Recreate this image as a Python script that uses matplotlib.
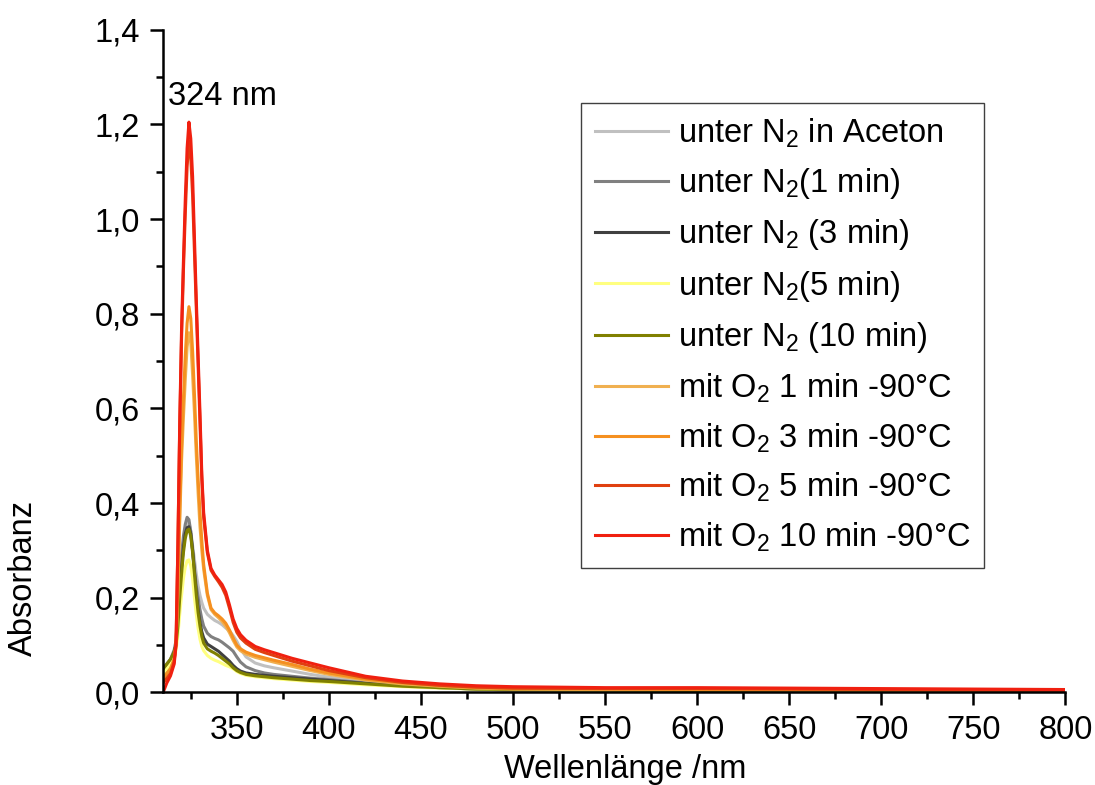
import matplotlib
matplotlib.use("Agg")
import matplotlib.pyplot as plt
from matplotlib.ticker import MultipleLocator, FuncFormatter

plt.rcParams['font.family'] = ['Liberation Sans', 'DejaVu Sans']
plt.rcParams['mathtext.fontset'] = 'custom'
plt.rcParams['mathtext.rm'] = 'Liberation Sans'
plt.rcParams['mathtext.it'] = 'Liberation Sans'

# wavelength grid (nm)
wl = [310, 312, 314, 316, 317, 318, 319, 320, 321, 322, 323, 324, 325, 326, 327, 328, 329, 330,
      331, 332, 334, 336, 338, 340, 342, 344, 346, 348, 350, 352, 355, 360, 365, 370, 380, 390,
      400, 420, 440, 460, 480, 500, 550, 600, 650, 700, 750, 800]

n2_aceton = [0.05, 0.06, 0.07, 0.085, 0.10, 0.15, 0.21, 0.27, 0.31, 0.345, 0.36, 0.358, 0.34, 0.31,
             0.28, 0.25, 0.225, 0.205, 0.19, 0.178, 0.165, 0.158, 0.152, 0.148, 0.143, 0.136, 0.13,
             0.12, 0.108, 0.092, 0.075, 0.062, 0.056, 0.052, 0.045, 0.038, 0.032, 0.023, 0.016,
             0.011, 0.008, 0.006, 0.005, 0.004, 0.004, 0.003, 0.003, 0.003]
n2_1min = [0.05, 0.06, 0.07, 0.09, 0.11, 0.17, 0.23, 0.29, 0.33, 0.355, 0.37, 0.365, 0.34, 0.30,
           0.26, 0.225, 0.20, 0.175, 0.155, 0.14, 0.125, 0.118, 0.114, 0.111, 0.106, 0.10, 0.094,
           0.087, 0.075, 0.064, 0.054, 0.046, 0.041, 0.038, 0.034, 0.030, 0.027, 0.020, 0.015,
           0.010, 0.007, 0.005, 0.004, 0.004, 0.003, 0.003, 0.003, 0.002]
n2_3min = [0.04, 0.05, 0.065, 0.085, 0.10, 0.15, 0.21, 0.265, 0.305, 0.335, 0.348, 0.35, 0.335,
           0.30, 0.255, 0.21, 0.175, 0.148, 0.128, 0.115, 0.102, 0.097, 0.092, 0.087, 0.080, 0.073,
           0.066, 0.057, 0.050, 0.045, 0.041, 0.038, 0.036, 0.034, 0.031, 0.028, 0.025, 0.019,
           0.014, 0.010, 0.007, 0.005, 0.004, 0.004, 0.003, 0.003, 0.003, 0.002]
n2_5min = [0.04, 0.05, 0.06, 0.075, 0.09, 0.12, 0.165, 0.205, 0.24, 0.265, 0.278, 0.28, 0.268,
           0.24, 0.20, 0.165, 0.135, 0.112, 0.097, 0.088, 0.078, 0.072, 0.068, 0.065, 0.061, 0.057,
           0.054, 0.050, 0.044, 0.040, 0.036, 0.033, 0.031, 0.029, 0.026, 0.023, 0.021, 0.016,
           0.012, 0.009, 0.007, 0.005, 0.004, 0.004, 0.003, 0.003, 0.003, 0.002]
n2_10min = [0.05, 0.06, 0.07, 0.085, 0.10, 0.14, 0.20, 0.25, 0.295, 0.325, 0.342, 0.345, 0.33,
            0.295, 0.25, 0.205, 0.168, 0.14, 0.118, 0.104, 0.092, 0.087, 0.083, 0.078, 0.072,
            0.066, 0.06, 0.052, 0.046, 0.042, 0.038, 0.035, 0.033, 0.031, 0.028, 0.025, 0.023,
            0.018, 0.013, 0.010, 0.007, 0.006, 0.005, 0.004, 0.004, 0.003, 0.003, 0.003]
o2_1min = [0.03, 0.04, 0.05, 0.07, 0.10, 0.21, 0.36, 0.49, 0.58, 0.66, 0.73, 0.76, 0.74, 0.67,
           0.59, 0.50, 0.42, 0.35, 0.30, 0.26, 0.205, 0.175, 0.165, 0.158, 0.150, 0.140, 0.126,
           0.110, 0.096, 0.088, 0.081, 0.074, 0.069, 0.064, 0.055, 0.046, 0.038, 0.026, 0.018,
           0.013, 0.009, 0.007, 0.006, 0.006, 0.005, 0.005, 0.004, 0.004]
o2_3min = [0.03, 0.04, 0.05, 0.07, 0.10, 0.22, 0.38, 0.52, 0.62, 0.71, 0.78, 0.815, 0.79, 0.72,
           0.63, 0.53, 0.45, 0.38, 0.32, 0.27, 0.21, 0.178, 0.168, 0.162, 0.155, 0.146, 0.132,
           0.115, 0.100, 0.092, 0.085, 0.078, 0.073, 0.068, 0.059, 0.049, 0.041, 0.028, 0.020,
           0.014, 0.010, 0.008, 0.007, 0.006, 0.006, 0.005, 0.004, 0.004]
o2_5min = [0.02, 0.03, 0.04, 0.065, 0.11, 0.31, 0.56, 0.75, 0.89, 1.01, 1.11, 1.165, 1.13, 1.05,
           0.93, 0.81, 0.69, 0.57, 0.45, 0.37, 0.295, 0.258, 0.245, 0.234, 0.222, 0.205, 0.178,
           0.148, 0.127, 0.115, 0.104, 0.091, 0.084, 0.078, 0.066, 0.056, 0.046, 0.031, 0.021,
           0.015, 0.011, 0.009, 0.008, 0.008, 0.007, 0.006, 0.005, 0.004]
o2_10min = [0.00, 0.02, 0.035, 0.06, 0.10, 0.31, 0.57, 0.77, 0.91, 1.04, 1.15, 1.205, 1.17, 1.09,
            0.96, 0.83, 0.71, 0.59, 0.46, 0.38, 0.30, 0.262, 0.248, 0.238, 0.228, 0.212, 0.185,
            0.155, 0.135, 0.122, 0.110, 0.097, 0.090, 0.084, 0.072, 0.062, 0.052, 0.034, 0.024,
            0.018, 0.014, 0.012, 0.010, 0.010, 0.009, 0.008, 0.007, 0.006]

series = [n2_aceton, n2_1min, n2_3min, n2_5min, n2_10min, o2_1min, o2_3min, o2_5min, o2_10min]
labels = ['unter N$_2$ in Aceton', 'unter N$_2$(1 min)', 'unter N$_2$ (3 min)',
          'unter N$_2$(5 min)', 'unter N$_2$ (10 min)', 'mit O$_2$ 1 min -90°C',
          'mit O$_2$ 3 min -90°C', 'mit O$_2$ 5 min -90°C', 'mit O$_2$ 10 min -90°C']
colors = ['#c0c0c0', '#808080', '#404040', '#ffff80', '#808000',
          '#f0b050', '#f59020', '#e04010', '#f02010']

fs = 23.5

fig = plt.figure(figsize=(10.95, 7.85), dpi=100)
ax = fig.add_axes([0.149, 0.118, 0.824, 0.844])

for y, lab, c in zip(series, labels, colors):
    ax.plot(wl, y, color=c, lw=2.2, label=lab, solid_joinstyle='round')

ax.set_xlim(310, 800)
ax.set_ylim(0, 1.4)
ax.xaxis.set_major_locator(MultipleLocator(50))
ax.xaxis.set_minor_locator(MultipleLocator(25))
ax.yaxis.set_major_locator(MultipleLocator(0.2))
ax.yaxis.set_minor_locator(MultipleLocator(0.1))
ax.yaxis.set_major_formatter(FuncFormatter(lambda v, p: f"{v:.1f}".replace('.', ',')))
ax.xaxis.set_major_formatter(FuncFormatter(lambda v, p: f"{v:.0f}"))

for s in ['top', 'right']:
    ax.spines[s].set_visible(False)
for s in ['left', 'bottom']:
    ax.spines[s].set_linewidth(1.8)
ax.tick_params(which='major', direction='out', length=9.5, width=1.8, labelsize=fs, pad=7)
ax.tick_params(which='minor', direction='out', length=5, width=1.8)

ax.set_xlabel('Wellenlänge /nm', fontsize=fs)
ax.set_ylabel('Absorbanz', fontsize=fs)
ax.xaxis.set_label_coords(0.512, -0.093)
ax.yaxis.set_label_coords(-0.138, 0.172)

ax.text(312.5, 1.26, '324 nm', fontsize=fs, va='center', ha='left')

leg = ax.legend(loc='upper left', bbox_to_anchor=(0.463, 0.89), fontsize=fs,
                frameon=True, fancybox=False, edgecolor='#404040', framealpha=1,
                handlelength=2.25, handletextpad=0.3, labelspacing=0.5,
                borderpad=0.42, borderaxespad=0)
leg.get_frame().set_linewidth(1)

fig.savefig('out.png', dpi=100)
